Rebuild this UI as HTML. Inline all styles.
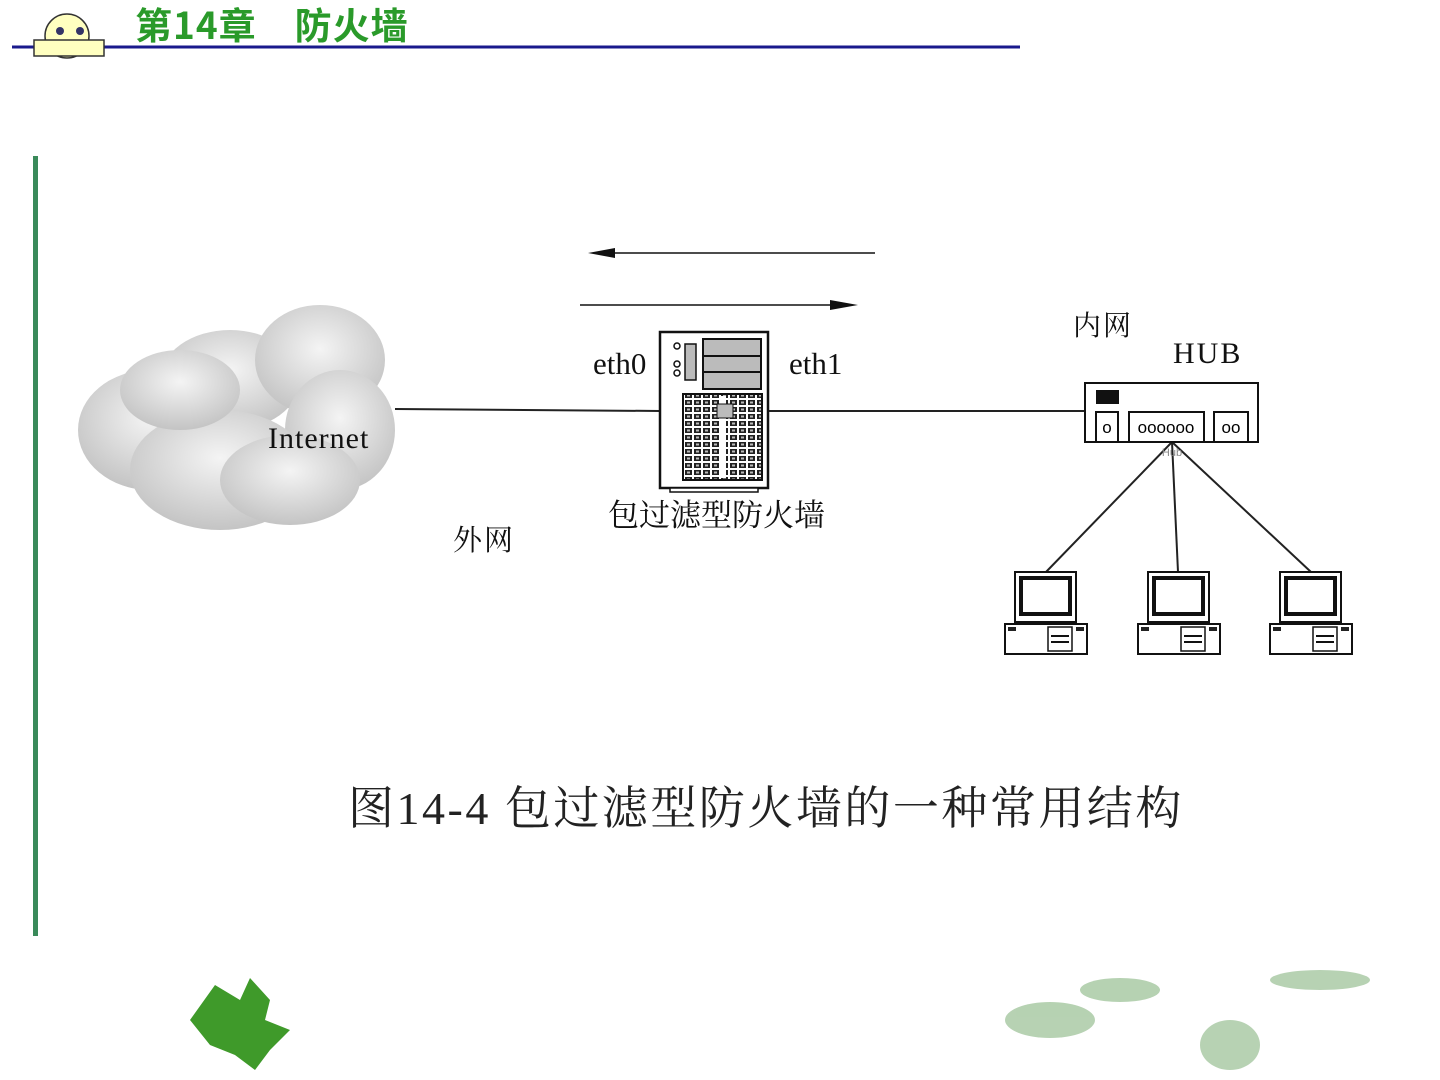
<!DOCTYPE html>
<html><head><meta charset="utf-8"><style>
body{margin:0;width:1440px;height:1080px;background:#fff;overflow:hidden;position:relative;font-family:"Liberation Serif","Noto Serif CJK SC",serif}
.t{position:absolute;white-space:nowrap;color:#111}
</style></head><body>
<svg width="1440" height="1080" style="position:absolute;left:0;top:0">
<defs>
<radialGradient id="cl" cx="0.5" cy="0.4" r="0.6"><stop offset="0" stop-color="#f4f4f4"/><stop offset="1" stop-color="#c4c4c4"/></radialGradient>
<pattern id="gr" width="9" height="7" patternUnits="userSpaceOnUse"><rect width="9" height="7" fill="#fff"/><rect x="1" y="1" width="7" height="5" fill="#222"/><rect x="3" y="2.5" width="3" height="2" fill="#bbb"/></pattern>
<g id="pc">
<rect x="1015" y="572" width="61" height="50" fill="#fff" stroke="#111" stroke-width="2"/>
<rect x="1021" y="578" width="49" height="36" fill="#fff" stroke="#111" stroke-width="4"/>
<rect x="1005" y="624" width="82" height="30" fill="#fff" stroke="#111" stroke-width="2"/>
<rect x="1008" y="627" width="8" height="4" fill="#222"/>
<rect x="1048" y="627" width="24" height="24" fill="#fff" stroke="#111" stroke-width="1.5"/>
<line x1="1051" y1="636" x2="1069" y2="636" stroke="#111" stroke-width="2"/>
<line x1="1051" y1="642" x2="1069" y2="642" stroke="#111" stroke-width="2"/>
<rect x="1076" y="627" width="8" height="4" fill="#222"/>
</g>
</defs>
<line x1="12" y1="47" x2="1020" y2="47" stroke="#1a1a8c" stroke-width="3"/>
<ellipse cx="67" cy="36" rx="22" ry="22" fill="#ffffc0" stroke="#333" stroke-width="1.5"/>
<rect x="34" y="40" width="70" height="16" fill="#ffffc0" stroke="#333" stroke-width="1.5"/>
<circle cx="60" cy="31" r="4" fill="#336"/><circle cx="80" cy="31" r="4" fill="#336"/>
<rect x="33" y="156" width="5" height="780" fill="#3a8a5a"/>
<g fill="url(#cl)">
<ellipse cx="150" cy="430" rx="72" ry="60"/><ellipse cx="230" cy="380" rx="70" ry="50"/>
<ellipse cx="320" cy="360" rx="65" ry="55"/><ellipse cx="340" cy="430" rx="55" ry="60"/>
<ellipse cx="220" cy="470" rx="90" ry="60"/><ellipse cx="290" cy="480" rx="70" ry="45"/>
<ellipse cx="180" cy="390" rx="60" ry="40"/>
</g>
<line x1="598" y1="253" x2="875" y2="253" stroke="#111" stroke-width="1.5"/>
<polygon points="588,253 615,248 615,258" fill="#111"/>
<line x1="580" y1="305" x2="845" y2="305" stroke="#111" stroke-width="1.5"/>
<polygon points="858,305 830,300 830,310" fill="#111"/>
<line x1="395" y1="409" x2="660" y2="411" stroke="#222" stroke-width="2"/>
<line x1="768" y1="411" x2="1085" y2="411" stroke="#222" stroke-width="2"/>
<line x1="1172" y1="442" x2="1046" y2="572" stroke="#222" stroke-width="2"/>
<line x1="1172" y1="442" x2="1178" y2="572" stroke="#222" stroke-width="2"/>
<line x1="1172" y1="442" x2="1311" y2="572" stroke="#222" stroke-width="2"/>
<rect x="660" y="332" width="108" height="156" fill="#fff" stroke="#111" stroke-width="2.5"/>
<rect x="670" y="488" width="88" height="4" fill="#fff" stroke="#111" stroke-width="1.5"/>
<rect x="703" y="339" width="58" height="50" fill="#bbb" stroke="#111" stroke-width="2"/>
<line x1="703" y1="356" x2="761" y2="356" stroke="#111" stroke-width="2"/>
<line x1="703" y1="372" x2="761" y2="372" stroke="#111" stroke-width="2"/>
<circle cx="677" cy="346" r="3" fill="none" stroke="#111" stroke-width="1.5"/>
<circle cx="677" cy="364" r="3" fill="none" stroke="#111" stroke-width="1.5"/>
<circle cx="677" cy="373" r="3" fill="none" stroke="#111" stroke-width="1.5"/>
<rect x="685" y="344" width="11" height="36" fill="#bbb" stroke="#111" stroke-width="1.5"/>
<rect x="683" y="394" width="79" height="86" fill="url(#gr)" stroke="#111" stroke-width="2"/>
<rect x="720" y="396" width="6" height="82" fill="#fff"/>
<rect x="717" y="404" width="16" height="14" fill="#bbb" stroke="#111"/>
<rect x="1085" y="383" width="173" height="59" fill="#fff" stroke="#111" stroke-width="2"/>
<rect x="1096" y="390" width="23" height="14" fill="#111"/>
<rect x="1096" y="412" width="22" height="30" fill="#fff" stroke="#111" stroke-width="2"/>
<rect x="1129" y="412" width="75" height="30" fill="#fff" stroke="#111" stroke-width="2"/>
<rect x="1214" y="412" width="34" height="30" fill="#fff" stroke="#111" stroke-width="2"/>
<text x="1107" y="433" font-family="Liberation Sans" font-size="17" text-anchor="middle">o</text>
<text x="1166" y="433" font-family="Liberation Sans" font-size="17" text-anchor="middle">oooooo</text>
<text x="1231" y="433" font-family="Liberation Sans" font-size="17" text-anchor="middle">oo</text>
<text x="1172" y="456" font-family="Liberation Sans" font-size="11" fill="#888" text-anchor="middle">Hub</text>
<use href="#pc"/><use href="#pc" x="133"/><use href="#pc" x="265"/>
<g fill="#3f9a2a"><path d="M190,1020 L215,985 L240,1000 L250,978 L270,1000 L265,1020 L290,1030 L270,1050 L255,1070 L235,1055 L210,1045 Z"/></g>
<g fill="#a5c7a0" opacity="0.8"><ellipse cx="1050" cy="1020" rx="45" ry="18"/><ellipse cx="1120" cy="990" rx="40" ry="12"/><ellipse cx="1230" cy="1045" rx="30" ry="25"/><ellipse cx="1320" cy="980" rx="50" ry="10"/></g>
</svg>
<div class="t" style="left:135px;top:0px;font-size:37px;color:#2a9a2a;font-family:'Noto Sans CJK SC',sans-serif;font-weight:bold;line-height:46px;letter-spacing:1px">第14章　防火墙</div>
<div class="t" style="left:268px;top:422px;font-size:30px;letter-spacing:1px">Internet</div>
<div class="t" style="left:593px;top:346px;font-size:31px">eth0</div>
<div class="t" style="left:789px;top:346px;font-size:31px">eth1</div>
<div class="t" style="left:1073px;top:304px;font-size:28px;letter-spacing:2px">内网</div>
<div class="t" style="left:1173px;top:337px;font-size:30px;letter-spacing:2px">HUB</div>
<div class="t" style="left:608px;top:490px;font-size:31px">包过滤型防火墙</div>
<div class="t" style="left:453px;top:518px;font-size:29px;letter-spacing:2px">外网</div>
<div class="t" style="left:348px;top:772px;font-size:46px;color:#222;letter-spacing:2.5px">图14-4 包过滤型防火墙的一种常用结构</div>
</body></html>
